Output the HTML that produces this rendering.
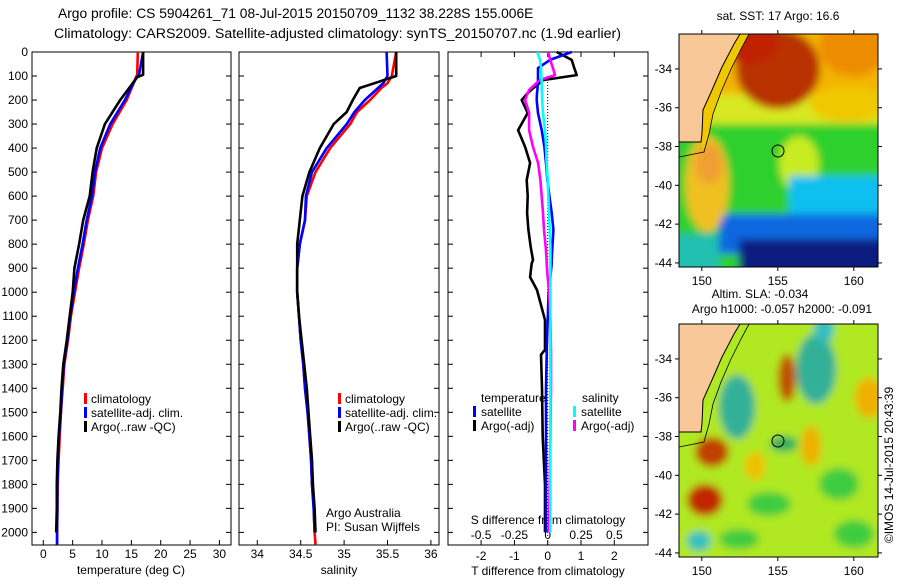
<!DOCTYPE html>
<html><head><meta charset="utf-8">
<style>
html,body{margin:0;padding:0;background:#fff;}
svg{display:block;font-family:"Liberation Sans",sans-serif;}
text{fill:#000;}
</style></head>
<body>
<svg id="fig" width="900" height="580" viewBox="0 0 900 580">
<defs>
<filter id="blur" x="-10%" y="-10%" width="120%" height="120%"><feGaussianBlur stdDeviation="4"/></filter>
<clipPath id="clipTop"><rect x="0" y="0" width="199" height="233"/></clipPath>
<clipPath id="clipBot"><rect x="0" y="0" width="199" height="233"/></clipPath>
</defs>
<text x="58" y="18" font-size="13.8">Argo profile: CS 5904261_71 08-Jul-2015 20150709_1132 38.228S 155.006E</text>
<text x="54" y="38" font-size="14.2">Climatology: CARS2009. Satellite-adjusted climatology: synTS_20150707.nc (1.9d earlier)</text>

<g transform="translate(679,34)">
 <g clip-path="url(#clipTop)">
  <g filter="url(#blur)">
   <rect x="-10" y="-10" width="220" height="260" fill="#2ed02e"/>
   <rect x="-10" y="-10" width="220" height="85" fill="#f2b400"/>
   <rect x="-10" y="60" width="220" height="30" fill="#d8e820"/>
   <ellipse cx="99" cy="35" rx="42" ry="40" fill="#b83000"/>
   <ellipse cx="70" cy="5" rx="30" ry="25" fill="#c02000"/>
   <ellipse cx="175" cy="12" rx="35" ry="30" fill="#ee8c00"/>
   <ellipse cx="170" cy="70" rx="40" ry="18" fill="#f0c800"/>
   <ellipse cx="120" cy="130" rx="20" ry="28" fill="#c8ec20"/>
   <rect x="110" y="142" width="100" height="48" fill="#10c0f0"/>
   <rect x="40" y="180" width="170" height="40" fill="#1068e0"/>
   <rect x="60" y="205" width="150" height="40" fill="#0a1a80"/>
   <ellipse cx="28" cy="150" rx="22" ry="48" fill="#f0c020"/>
   <ellipse cx="30" cy="130" rx="14" ry="20" fill="#f0a030"/>
   <rect x="-10" y="200" width="50" height="40" fill="#20c0b0"/>
  </g>
  <polygon points="61,0 70,0 62,15 52,35 42,58 34,80 30,100 25,118 22,108 23,99 24,76 33,56 43,33 55,10" fill="#f0c800"/>
  <polygon points="0,0 61,0 55,10 43,33 33,56 24,76 23,99 22,108 0,108" fill="#f8c898"/>
  <polyline points="61,0 55,10 43,33 33,56 24,76 23,99 22,108 0,108" fill="none" stroke="#000" stroke-width="1"/>
  <polyline points="70,0 62,15 52,35 42,58 34,80 30,100 25,118 0,123" fill="none" stroke="#000" stroke-width="0.8"/>
  <circle cx="99" cy="117" r="6" fill="none" stroke="#000" stroke-width="1"/>
 </g>
 <rect x="0" y="0" width="199" height="233" fill="none" stroke="#000" stroke-width="1"/>
</g>
<text x="778" y="20" font-size="12" text-anchor="middle">sat. SST: 17 Argo: 16.6</text>

<g transform="translate(679,324)">
 <g clip-path="url(#clipBot)">
  <g filter="url(#blur)">
   <rect x="-10" y="-10" width="220" height="260" fill="#b0e820"/>
   <ellipse cx="58" cy="83" rx="18" ry="32" fill="#30b098"/>
   <ellipse cx="137" cy="45" rx="20" ry="35" fill="#30b098"/>
   <ellipse cx="145" cy="5" rx="10" ry="14" fill="#30c0c0"/>
   <ellipse cx="33" cy="128" rx="17" ry="15" fill="#c04000"/>
   <ellipse cx="26" cy="176" rx="18" ry="16" fill="#c02800"/>
   <ellipse cx="108" cy="54" rx="9" ry="24" fill="#c05000"/>
   <ellipse cx="132" cy="122" rx="10" ry="20" fill="#f0b000"/>
   <ellipse cx="190" cy="74" rx="14" ry="20" fill="#f0b000"/>
   <ellipse cx="76" cy="142" rx="10" ry="14" fill="#f0c000"/>
   <ellipse cx="20" cy="217" rx="12" ry="10" fill="#30c0c0"/>
   <ellipse cx="90" cy="180" rx="22" ry="12" fill="#40cc40"/>
   <ellipse cx="160" cy="160" rx="20" ry="16" fill="#40cc40"/>
   <ellipse cx="105" cy="120" rx="14" ry="8" fill="#30b060"/>
   <ellipse cx="60" cy="215" rx="20" ry="10" fill="#40cc40"/>
   <ellipse cx="175" cy="210" rx="20" ry="14" fill="#40cc40"/>
  </g>
  <polygon points="0,0 61,0 55,10 43,33 33,56 24,76 23,99 22,108 0,108" fill="#f8c898"/>
  <polyline points="61,0 55,10 43,33 33,56 24,76 23,99 22,108 0,108" fill="none" stroke="#000" stroke-width="1"/>
  <polyline points="70,0 62,15 52,35 42,58 34,80 30,100 25,118 0,123" fill="none" stroke="#000" stroke-width="0.8"/>
  <circle cx="99" cy="117" r="6" fill="none" stroke="#000" stroke-width="1"/>
 </g>
 <rect x="0" y="0" width="199" height="233" fill="none" stroke="#000" stroke-width="1"/>
</g>
<text x="760" y="298" font-size="12" text-anchor="middle">Altim. SLA: -0.034</text>
<text x="782" y="313" font-size="12" text-anchor="middle">Argo h1000: -0.057 h2000: -0.091</text>
<text transform="translate(893,465) rotate(-90)" font-size="12" text-anchor="middle">©IMOS 14-Jul-2015 20:43:39</text>

<g id="plots"></g>
</svg>
<script>
const tDepth = [0, 95, 105, 200, 300, 400, 500, 600, 700, 800, 900, 1000, 1100, 1200, 1300, 1400, 1500, 1600, 1700, 1800, 1900, 2000, 2050];
const tClim = [16.1, 16.0, 15.8, 14.2, 11.8, 10.0, 9.0, 8.5, 7.6, 6.9, 6.1, 5.4, 4.7, 4.2, 3.6, 3.3, 3.0, 2.8, 2.6, 2.45, 2.4, 2.35, 2.35];
const tSat = [17.0, 16.3, 15.9, 13.9, 11.4, 9.7, 8.8, 8.3, 7.4, 6.7, 5.9, 5.2, 4.6, 4.1, 3.5, 3.2, 3.0, 2.7, 2.5, 2.4, 2.4, 2.35, 2.35];
const tArgo = [17.0, 17.0, 16.0, 13.1, 10.5, 9.1, 8.4, 7.9, 6.8, 6.1, 5.3, 5.0, 4.5, 4.0, 3.4, 3.1, 2.9, 2.6, 2.4, 2.3, 2.3, 2.2, null];
const sDepth = [0, 100, 130, 150, 200, 250, 300, 400, 500, 600, 700, 800, 900, 1000, 1100, 1200, 1300, 1400, 1500, 1600, 1700, 1800, 1900, 2000, 2050];
const sClim = [35.6, 35.55, 35.5, 35.43, 35.30, 35.15, 35.07, 34.84, 34.67, 34.57, 34.55, 34.49, 34.46, 34.46, 34.48, 34.50, 34.53, 34.55, 34.58, 34.60, 34.62, 34.63, 34.65, 34.66, 34.67];
const sSat = [35.49, 35.5, 35.45, 35.39, 35.24, 35.12, 35.03, 34.80, 34.63, 34.56, 34.55, 34.49, 34.46, 34.46, 34.48, 34.50, 34.53, 34.55, 34.58, 34.60, 34.62, 34.63, 34.65, 34.66, null];
const sArgo = [35.6, 35.6, 35.35, 35.18, 35.10, 35.03, 34.88, 34.72, 34.60, 34.52, 34.49, 34.46, 34.46, 34.46, 34.48, 34.51, 34.54, 34.57, 34.59, 34.61, 34.63, 34.64, 34.66, 34.67, null];
const dDepth = [0, 33, 67, 96, 117, 158, 171, 200, 254, 325, 395, 462, 533, 600, 670, 740, 812, 866, 880, 937, 991, 1116, 1240, 1260, 1400, 1600, 1800, 2000];
const dTArgo = [0.27, 0.72, 0.8, 0.87, -0.14, -0.5, -0.6, -0.78, -0.6, -0.89, -0.68, -0.53, -0.63, -0.6, -0.62, -0.58, -0.51, -0.44, -0.48, -0.53, -0.32, -0.08, -0.08, -0.2, -0.17, -0.15, -0.08, -0.08];
const dTSat = [0.72, 0.07, -0.29, -0.29, -0.29, -0.31, -0.32, -0.33, -0.29, -0.18, -0.1, -0.05, -0.01, 0.05, 0.12, 0.17, 0.14, 0.12, 0.12, 0.08, 0.03, 0.0, -0.03, -0.03, -0.05, -0.05, -0.05, -0.05];
const dSSat = [-0.078, -0.058, -0.05, -0.048, -0.046, -0.044, -0.043, -0.042, -0.035, -0.02, -0.012, -0.008, 0.0, 0.005, 0.01, 0.015, 0.02, 0.02, 0.02, 0.02, 0.02, 0.02, 0.02, 0.02, 0.02, 0.02, 0.02, 0.02];
const dSArgo = [0.005, 0.018, 0.04, 0.055, -0.06, -0.14, -0.15, -0.17, -0.14, -0.14, -0.11, -0.072, -0.055, -0.045, -0.035, -0.028, -0.015, -0.008, -0.008, 0.0, 0.01, 0.02, 0.025, 0.025, 0.025, 0.02, 0.015, 0.01];
const depthTicks = [0,100,200,300,400,500,600,700,800,900,1000,1100,1200,1300,1400,1500,1600,1700,1800,1900,2000];
const tTicks = [0,5,10,15,20,25,30];
const sTicks = [34,34.5,35,35.5,36];
const dTTicks = [-2,-1,0,1,2];
const dSTicks = [-0.5,-0.25,0,0.25,0.5];
const dSTickLabels = ['-0.5','-0.25','0','0.25','0.5'];

const Y0 = 52, YPX = 0.2402, YB = 545;
const yD = d => Y0 + d * YPX;
const xT = v => 43.3 + v * 5.87;
const xS = v => 257.3 + (v - 34) * 86.8;
const xDT = v => 547.7 + v * 33.3;
const xDS = v => 547.7 + v * 4 * 33.3;
const NS = 'http://www.w3.org/2000/svg';
const root = document.getElementById('plots');
function mk(tag, attrs, parent) {
  const e = document.createElementNS(NS, tag);
  for (const k in attrs) e.setAttribute(k, attrs[k]);
  (parent || root).appendChild(e);
  return e;
}
function txt(x, y, s, anchor, size) {
  const t = mk('text', {x: x, y: y, 'font-size': size || 12, 'text-anchor': anchor || 'start'});
  t.textContent = s;
  return t;
}
function line(depths, vals, xf, color, name) {
  const pts = [];
  for (let i = 0; i < depths.length; i++) {
    if (vals[i] === null) continue;
    pts.push(xf(vals[i]).toFixed(1) + ',' + yD(depths[i]).toFixed(1));
  }
  const p = mk('polyline', {points: pts.join(' '), fill: 'none', stroke: color, 'stroke-width': 2.6, 'stroke-linejoin': 'round'});
  
  
  return p;
}
function panel(x0, x1, name) {
  const r = mk('rect', {x: x0, y: Y0, width: x1 - x0, height: YB - Y0, fill: 'none', stroke: '#000', 'stroke-width': 1});
  
  
  depthTicks.forEach(d => {
    mk('line', {x1: x0, x2: x0 + 5, y1: yD(d), y2: yD(d), stroke: '#000'});
    mk('line', {x1: x1 - 5, x2: x1, y1: yD(d), y2: yD(d), stroke: '#000'});
  });
}
function xticks(ticks, labels, xf, y, name, top) {
  ticks.forEach((v, i) => {
    mk('line', {x1: xf(v), x2: xf(v), y1: YB - 5, y2: YB, stroke: '#000'});
    if (top) mk('line', {x1: xf(v), x2: xf(v), y1: Y0, y2: Y0 + 5, stroke: '#000'});
    const t = txt(xf(v), y, labels[i], 'middle');
    
    
  });
}
function legendMark(x, y, color) {
  mk('rect', {x: x, y: y - 10, width: 3, height: 11, fill: color});
}

depthTicks.forEach(d => {
  const t = txt(28, yD(d) + 4, String(d), 'end');
  
  
});

panel(32, 231, 'temperature-panel');
xticks(tTicks, tTicks.map(String), xT, 558, 'temperature-tick-label', false);
const tt = txt(131, 574, 'temperature (deg C)', 'middle');


line(tDepth, tClim, xT, '#ff0000', 'temperature-climatology-line');
line(tDepth, tSat, xT, '#0000ff', 'temperature-satellite-line');
line(tDepth, tArgo, xT, '#000000', 'temperature-argo-line');
[['climatology', '#ff0000'], ['satellite-adj. clim.', '#0000ff'], ['Argo(..raw -QC)', '#000000']].forEach((e, i) => {
  legendMark(84, 403 + i * 14, e[1]);
  const t = txt(91, 403 + i * 14, e[0]);
  
  
});

panel(239, 439, 'salinity-panel');
xticks(sTicks, ['34', '34.5', '35', '35.5', '36'], xS, 558, 'salinity-tick-label', false);
const st = txt(339, 574, 'salinity', 'middle');


line(sDepth, sClim, xS, '#ff0000', 'salinity-climatology-line');
line(sDepth, sSat, xS, '#0000ff', 'salinity-satellite-line');
line(sDepth, sArgo, xS, '#000000', 'salinity-argo-line');
[['climatology', '#ff0000'], ['satellite-adj. clim.', '#0000ff'], ['Argo(..raw -QC)', '#000000']].forEach((e, i) => {
  legendMark(338, 403 + i * 14, e[1]);
  const t = txt(345, 403 + i * 14, e[0]);
  
  
});
const a1 = txt(326, 517, 'Argo Australia');


const a2 = txt(326, 531, 'PI: Susan Wijffels');



panel(448, 648, 'difference-panel');
mk('line', {x1: xDT(0), x2: xDT(0), y1: yD(100), y2: YB, stroke: '#000', 'stroke-dasharray': '1,2', 'stroke-width': 1});
xticks(dTTicks, dTTicks.map(String), xDT, 560, 't-difference-tick-label', true);
dSTicks.forEach((v, i) => {
  const t = txt(xDS(v), 539, dSTickLabels[i], 'middle');
  
  
});
const sd = txt(548, 524, 'S difference from climatology', 'middle');


const td = txt(548, 575, 'T difference from climatology', 'middle');


line(dDepth, dTArgo, xDT, '#000000', 't-diff-argo-line');
line(dDepth, dTSat, xDT, '#0000ff', 't-diff-satellite-line');
line(dDepth, dSArgo, xDS, '#ff00ff', 's-diff-argo-line');
line(dDepth, dSSat, xDS, '#00ffff', 's-diff-satellite-line');
const lt = txt(481, 402, 'temperature');


const ls = txt(582, 402, 'salinity');


[['satellite', '#0000ff', 473], ['Argo(-adj)', '#000000', 473]].forEach((e, i) => {
  legendMark(e[2], 416 + i * 14, e[1]);
  const t = txt(e[2] + 8, 416 + i * 14, e[0]);
  
  
});
[['satellite', '#00ffff', 573], ['Argo(-adj)', '#ff00ff', 573]].forEach((e, i) => {
  legendMark(e[2], 416 + i * 14, e[1]);
  const t = txt(e[2] + 8, 416 + i * 14, e[0]);
  
  
});

const lonTicks = [150, 155, 160];
const latTicks = [-34, -36, -38, -40, -42, -44];
const mx = lon => 679 + (lon - 148.5) * 15.2;
const my = lat => (-32.2 - lat) * 19.4;
[34, 324].forEach((top, mi) => {
  lonTicks.forEach(l => {
    mk('line', {x1: mx(l), x2: mx(l), y1: top - 4, y2: top, stroke: '#000'});
    mk('line', {x1: mx(l), x2: mx(l), y1: top + 233, y2: top + 237, stroke: '#000'});
    const t = txt(mx(l), top + 251, String(l), 'middle');
    
    
  });
  latTicks.forEach(l => {
    const y = top + my(l);
    mk('line', {x1: 675, x2: 679, y1: y, y2: y, stroke: '#000'});
    mk('line', {x1: 878, x2: 882, y1: y, y2: y, stroke: '#000'});
    const t = txt(672, y + 4, String(l), 'end');
    
    
  });
});
</script>
</body></html>
